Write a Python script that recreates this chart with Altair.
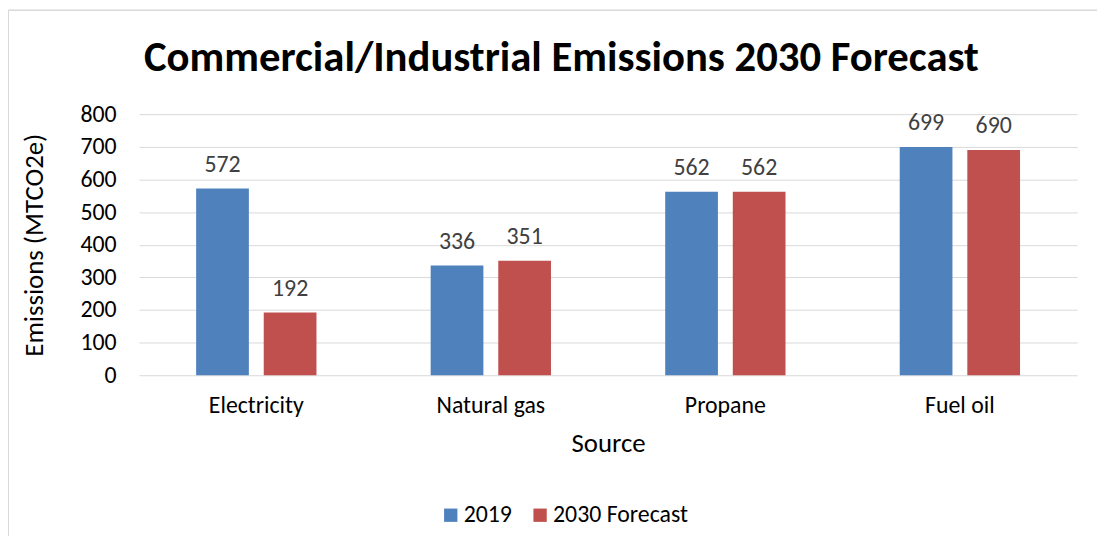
import altair as alt
import pandas as pd

categories = ["Electricity", "Natural gas", "Propane", "Fuel oil"]
series = ["2019", "2030 Forecast"]
values_2019 = [572, 336, 562, 699]
values_2030 = [192, 351, 562, 690]
colors = ["#4F81BD", "#C0504D"]
y_ticks = [0, 100, 200, 300, 400, 500, 600, 700, 800]

rows = []
for c, a, b in zip(categories, values_2019, values_2030):
    rows.append({"Source": c, "Series": series[0], "Value": a})
    rows.append({"Source": c, "Series": series[1], "Value": b})
df = pd.DataFrame(rows)

FONT = "Calibri, Carlito, Lato, sans-serif"

x_enc = alt.X("Source:N", sort=categories,
              scale=alt.Scale(paddingInner=0.487, paddingOuter=0.2435),
              axis=alt.Axis(title="Source", labelAngle=0, ticks=False, tickSize=0,
                            domain=False, labelFontSize=24, labelColor="#000000",
                            labelBaseline="alphabetic", labelPadding=38,
                            titleFontSize=27, titleFontWeight="normal", titleColor="#000000",
                            titleX=472.5, titleY=77, titleBaseline="alphabetic",
                            labelFont=FONT, titleFont=FONT))
xo_enc = alt.XOffset("Series:N", sort=series,
                     scale=alt.Scale(paddingInner=0.22, paddingOuter=0))
y_enc = alt.Y("Value:Q",
              scale=alt.Scale(domain=[0, 800], nice=False),
              axis=alt.Axis(title="Emissions (MTCO2e)", values=y_ticks, tickCount=20,
                            ticks=False, tickSize=0, domain=False, labelOverlap=False,
                            gridColor="#D9D9D9", gridWidth=1,
                            labelFontSize=24, labelColor="#000000", labelPadding=23,
                            titleFontSize=27, titleFontWeight="normal", titleColor="#000000",
                            titleAngle=270, titleX=-105, titleY=131.5,
                            titleAlign="center", titleBaseline="middle",
                            labelFont=FONT, titleFont=FONT))

base = alt.Chart(df).encode(x=x_enc, xOffset=xo_enc, y=y_enc)

bars = base.mark_bar().encode(
    color=alt.Color("Series:N", sort=series,
                    scale=alt.Scale(domain=series, range=colors),
                    legend=alt.Legend(orient="none", legendX=302, legendY=392,
                                      direction="horizontal", title=None,
                                      symbolType="square", symbolSize=180,
                                      symbolStrokeWidth=0, labelFontSize=24,
                                      labelColor="#000000", labelFont=FONT,
                                      columnPadding=16, padding=0, labelOffset=1)),
)

labels = base.mark_text(baseline="alphabetic", dy=-17, fontSize=24,
                        color="#404040", font=FONT).encode(text="Value:Q")

frame = alt.Chart(df).mark_rect(fill=None, stroke="#D9D9D9", strokeWidth=1).encode(
    x=alt.value(-131.5), x2=alt.value(1100), y=alt.value(-104.5), y2=alt.value(600)
)

chart = alt.layer(frame, bars, labels).properties(
    width=945, height=263,
    padding={"left": 132, "top": 105, "right": 20, "bottom": 160},
    autosize=alt.AutoSizeParams(type="none"),
    title=alt.TitleParams("Commercial/Industrial Emissions 2030 Forecast",
                          fontSize=43, fontWeight="bold", font=FONT, color="#000000",
                          anchor="middle", dx=-47, offset=-105, baseline="alphabetic"),
).configure_view(stroke=None)

chart.save("out.html", embed_options={"renderer": "svg", "actions": False})
